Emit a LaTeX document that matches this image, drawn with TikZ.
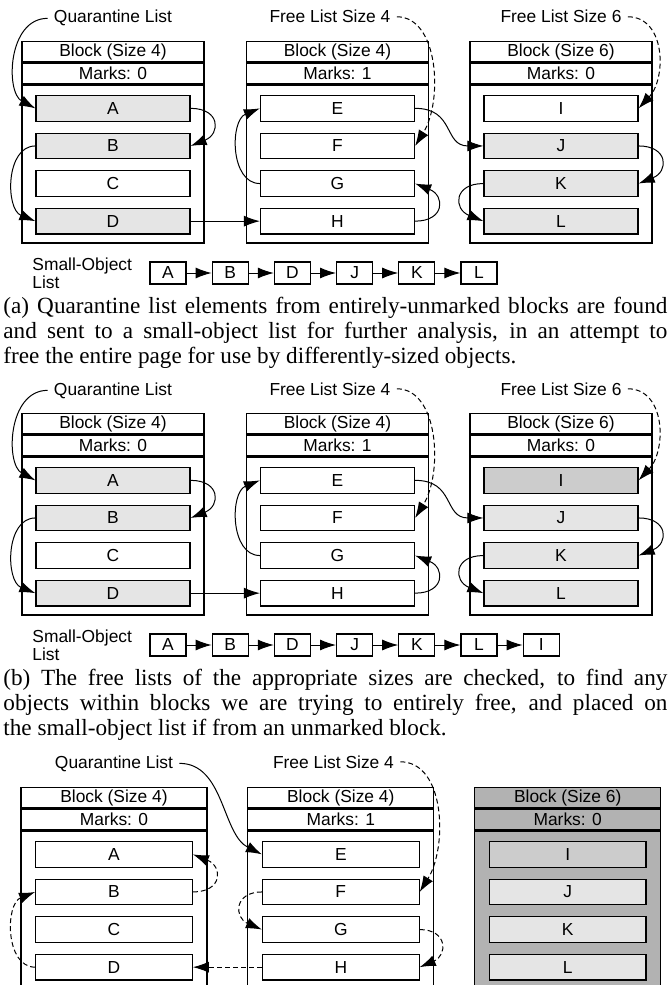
\documentclass[tikz,border=0pt]{standalone}
\usepackage{fontspec}
\setmainfont{Liberation Serif}
\setsansfont{Liberation Sans}
\usetikzlibrary{
  positioning,
  arrows.meta} % for the Latex tips
\tikzstyle{hdr} = [draw, line width=0.6pt, anchor=north, minimum width=91pt, minimum height=10.3pt, inner sep=0pt]
\tikzstyle{blockbody} = [draw, line width=0.6pt, minimum width=91pt, minimum height=79pt, inner sep=0pt]
\tikzstyle{obj} = [draw, line width=0.6pt, fill=white, minimum width=77pt, minimum height=12.75pt, inner sep=0pt]
\tikzstyle{quar} = [fill=gray!20]
\tikzstyle{checked} = [fill=gray!40]
\tikzstyle{gone} = [fill=gray!60]
\tikzstyle{sobj} = [draw, line width=0.6pt, minimum width=18pt, minimum height=11pt, inner sep=0pt]
\tikzstyle{lbl} = [anchor=base, inner sep=3pt]
\tikzstyle{solbl} = [align=left, anchor=west, inner sep=0pt]
\tikzstyle{capt} = [anchor=north west, text width=332pt, align=justify, inner sep=0pt, font=\rmfamily\fontsize{11.6}{12.5}\selectfont]
\tikzstyle{ptr} = [->, line width=0.5pt]
\tikzstyle{freeptr} = [->, line width=0.5pt, dash pattern=on 2.5pt off 1.5pt]

% block frame: name, top, size, marks, extra style
\newcommand{\heapblock}[5]{%
  \node[hdr,#5] (#1h) at #2 {Block (Size #3)};
  \node[hdr,#5,below=0pt of #1h] (#1m) {Marks: #4};
  \node[blockbody,#5,below=0pt of #1m] (#1b) {};
}

\begin{document}
\begin{tikzpicture}[x=0.5pt, y=-0.5pt, font=\fontsize{8.7}{8.9}\selectfont\sffamily, >={Latex[length=8pt,width=5.5pt]}]
\useasboundingbox (0,0) rectangle (670,985);
\clip (0,0) rectangle (670,985);

% (a)
\node[lbl] (a-ql) at (113,23) {Quarantine List};
\node[lbl] (a-f4) at (330,23) {Free List Size 4};
\node[lbl] (a-f6) at (561,23) {Free List Size 6};
\heapblock{a-1}{(113,40.7)}{4}{0}{}
\heapblock{a-2}{(337.5,40.7)}{4}{1}{}
\heapblock{a-3}{(561,40.7)}{6}{0}{}
\node[obj,quar,below=5.35pt of a-1m] (a-A) {A};
\node[obj,quar,below=5.45pt of a-A] (a-B) {B};
\node[obj,below=5.45pt of a-B] (a-C) {C};
\node[obj,quar,below=5.45pt of a-C] (a-D) {D};
\node[obj,below=5.35pt of a-2m] (a-E) {E};
\node[obj,below=5.45pt of a-E] (a-F) {F};
\node[obj,below=5.45pt of a-F] (a-G) {G};
\node[obj,below=5.45pt of a-G] (a-H) {H};
\node[obj,below=5.35pt of a-3m] (a-I) {I};
\node[obj,quar,below=5.45pt of a-I] (a-J) {J};
\node[obj,quar,below=5.45pt of a-J] (a-K) {K};
\node[obj,quar,below=5.45pt of a-K] (a-L) {L};

\draw[ptr] (a-ql.west) .. controls +(-40,0) and +(-30,-16) .. (a-A.west);
\draw[ptr] (a-A.east) .. controls +(30,0) and +(30,-12) .. (a-B.east);
\draw[ptr] (a-B.west) .. controls +(-30,0) and +(-30,-12) .. (a-D.west);
\draw[ptr] (a-D) -- (a-H);
\draw[freeptr] (a-f4.east) .. controls +(42,0) and +(28,-45) .. (a-F.east);
\draw[ptr] (a-E.east) .. controls +(40,0) and +(-40,0) .. (a-J.west);
\draw[ptr] (a-G.west) .. controls +(-30,0) and +(-30,12) .. (a-E.west);
\draw[ptr] (a-H.east) .. controls +(30,0) and +(30,12) .. (a-G.east);
\draw[freeptr] (a-f6.east) .. controls +(38,0) and +(28,-30) .. (a-I.east);
\draw[ptr] (a-J.east) .. controls +(30,0) and +(30,-12) .. (a-K.east);
\draw[ptr] (a-K.west) .. controls +(-30,0) and +(-30,-12) .. (a-L.west);

\node[solbl] (a-sol) at (32,273.5) {Small-Object\\List};
\node[sobj] (a-s1) at (168,273) {A};
\node[sobj,right=12.5pt of a-s1] (a-s2) {B};
\node[sobj,right=12.5pt of a-s2] (a-s3) {D};
\node[sobj,right=12.5pt of a-s3] (a-s4) {J};
\node[sobj,right=12.5pt of a-s4] (a-s5) {K};
\node[sobj,right=12.5pt of a-s5] (a-s6) {L};
\draw[ptr] (a-s1) -- (a-s2);
\draw[ptr] (a-s2) -- (a-s3);
\draw[ptr] (a-s3) -- (a-s4);
\draw[ptr] (a-s4) -- (a-s5);
\draw[ptr] (a-s5) -- (a-s6);

\node[capt] (a-cap) at (3,297) {(a) Quarantine list elements from entirely-unmarked blocks are found\linebreak
and sent to a small-object list for further analysis, in an attempt to\linebreak
free the entire page for use by differently-sized objects.};

% (b)
\node[lbl] (b-ql) at (113,395) {Quarantine List};
\node[lbl] (b-f4) at (330,395) {Free List Size 4};
\node[lbl] (b-f6) at (561,395) {Free List Size 6};
\heapblock{b-1}{(113,412.7)}{4}{0}{}
\heapblock{b-2}{(337.5,412.7)}{4}{1}{}
\heapblock{b-3}{(561,412.7)}{6}{0}{}
\node[obj,quar,below=5.35pt of b-1m] (b-A) {A};
\node[obj,quar,below=5.45pt of b-A] (b-B) {B};
\node[obj,below=5.45pt of b-B] (b-C) {C};
\node[obj,quar,below=5.45pt of b-C] (b-D) {D};
\node[obj,below=5.35pt of b-2m] (b-E) {E};
\node[obj,below=5.45pt of b-E] (b-F) {F};
\node[obj,below=5.45pt of b-F] (b-G) {G};
\node[obj,below=5.45pt of b-G] (b-H) {H};
\node[obj,checked,below=5.35pt of b-3m] (b-I) {I};
\node[obj,quar,below=5.45pt of b-I] (b-J) {J};
\node[obj,quar,below=5.45pt of b-J] (b-K) {K};
\node[obj,quar,below=5.45pt of b-K] (b-L) {L};

\draw[ptr] (b-ql.west) .. controls +(-40,0) and +(-30,-16) .. (b-A.west);
\draw[ptr] (b-A.east) .. controls +(30,0) and +(30,-12) .. (b-B.east);
\draw[ptr] (b-B.west) .. controls +(-30,0) and +(-30,-12) .. (b-D.west);
\draw[ptr] (b-D) -- (b-H);
\draw[freeptr] (b-f4.east) .. controls +(42,0) and +(28,-45) .. (b-F.east);
\draw[ptr] (b-E.east) .. controls +(40,0) and +(-40,0) .. (b-J.west);
\draw[ptr] (b-G.west) .. controls +(-30,0) and +(-30,12) .. (b-E.west);
\draw[ptr] (b-H.east) .. controls +(30,0) and +(30,12) .. (b-G.east);
\draw[freeptr] (b-f6.east) .. controls +(38,0) and +(28,-30) .. (b-I.east);
\draw[ptr] (b-J.east) .. controls +(30,0) and +(30,-12) .. (b-K.east);
\draw[ptr] (b-K.west) .. controls +(-30,0) and +(-30,-12) .. (b-L.west);

\node[solbl] (b-sol) at (32,645.5) {Small-Object\\List};
\node[sobj] (b-s1) at (168,645) {A};
\node[sobj,right=12.5pt of b-s1] (b-s2) {B};
\node[sobj,right=12.5pt of b-s2] (b-s3) {D};
\node[sobj,right=12.5pt of b-s3] (b-s4) {J};
\node[sobj,right=12.5pt of b-s4] (b-s5) {K};
\node[sobj,right=12.5pt of b-s5] (b-s6) {L};
\node[sobj,right=12.5pt of b-s6] (b-s7) {I};
\draw[ptr] (b-s1) -- (b-s2);
\draw[ptr] (b-s2) -- (b-s3);
\draw[ptr] (b-s3) -- (b-s4);
\draw[ptr] (b-s4) -- (b-s5);
\draw[ptr] (b-s5) -- (b-s6);
\draw[ptr] (b-s6) -- (b-s7);

\node[capt] (b-cap) at (3,669) {(b) The free lists of the appropriate sizes are checked, to find any\linebreak
objects within blocks we are trying to entirely free, and placed on\linebreak
the small-object list if from an unmarked block.};

% (c)
\begin{scope}[hdr/.append style={minimum width=93pt}, blockbody/.append style={minimum width=93pt}, obj/.append style={minimum width=78.3pt}]
\node[lbl] (c-ql) at (114,768) {Quarantine List};
\node[lbl] (c-f4) at (333.5,768) {Free List Size 4};
\heapblock{c-1}{(114,786.7)}{4}{0}{}
\heapblock{c-2}{(340.8,786.7)}{4}{1}{}
\heapblock{c-3}{(567.7,786.7)}{6}{0}{gone}
\node[obj,below=5.35pt of c-1m] (c-A) {A};
\node[obj,below=5.45pt of c-A] (c-B) {B};
\node[obj,below=5.45pt of c-B] (c-C) {C};
\node[obj,below=5.45pt of c-C] (c-D) {D};
\node[obj,below=5.35pt of c-2m] (c-E) {E};
\node[obj,below=5.45pt of c-E] (c-F) {F};
\node[obj,below=5.45pt of c-F] (c-G) {G};
\node[obj,below=5.45pt of c-G] (c-H) {H};
\node[obj,checked,below=5.35pt of c-3m] (c-I) {I};
\node[obj,quar,below=5.45pt of c-I] (c-J) {J};
\node[obj,quar,below=5.45pt of c-J] (c-K) {K};
\node[obj,quar,below=5.45pt of c-K] (c-L) {L};
\end{scope}

\draw[ptr] (c-ql.east) .. controls +(45,0) and +(-40,-20) .. (c-E.west);
\draw[freeptr] (c-f4.east) .. controls +(45,0) and +(28,-45) .. (c-F.east);
\draw[freeptr] (c-B.east) .. controls +(30,0) and +(30,12) .. (c-A.east);
\draw[freeptr] (c-D.west) .. controls +(-30,0) and +(-30,12) .. (c-B.west);
\draw[freeptr] (c-H) -- (c-D);
\draw[freeptr] (c-F.west) .. controls +(-28,0) and +(-28,-12) .. (c-G.west);
\draw[freeptr] (c-G.east) .. controls +(28,0) and +(28,-12) .. (c-H.east);

\end{tikzpicture}
\end{document}
